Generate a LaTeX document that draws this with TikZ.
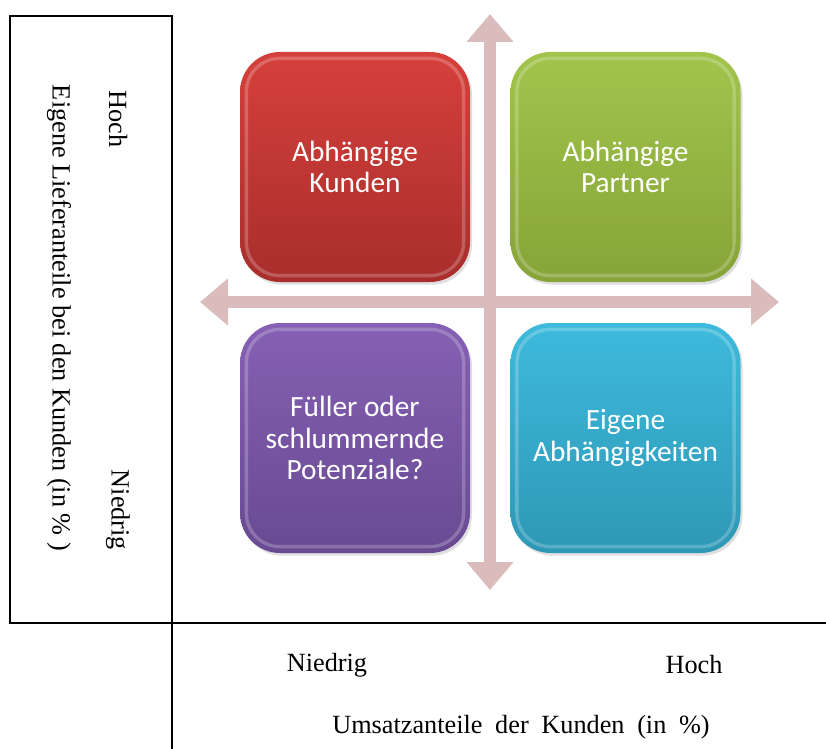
\documentclass[tikz,border=0pt]{standalone}
\usepackage{fontspec}
\setmainfont{Liberation Serif}
\newfontfamily\boxfont{Carlito}
\usetikzlibrary{arrows.meta,shadows}

\definecolor{redtop}{RGB}{214,64,60}
\definecolor{redbot}{RGB}{168,46,44}
\definecolor{greentop}{RGB}{162,196,76}
\definecolor{greenbot}{RGB}{134,164,56}
\definecolor{purpletop}{RGB}{134,96,180}
\definecolor{purplebot}{RGB}{104,74,146}
\definecolor{bluetop}{RGB}{62,186,220}
\definecolor{bluebot}{RGB}{46,152,182}
\definecolor{axispink}{RGB}{218,188,188}

\tikzset{
  quadbox/.style={rounded corners=30pt, minimum width=172.5pt, minimum height=172.5pt,
    align=center, text=white, font=\boxfont\fontsize{22}{23.5}\selectfont,
    drop shadow={shadow xshift=1.5pt, shadow yshift=-2pt, opacity=.25}},
  rim/.style={draw=white, draw opacity=.22, line width=2.5pt, rounded corners=25pt},
  axisarrow/.style={line width=8.5pt, draw=axispink,
    {Triangle[length=21pt,width=34pt]}-{Triangle[length=21pt,width=34pt]}},
  axislabel/.style={font=\fontsize{19.7}{22}\selectfont, inner sep=0pt},
  frame/.style={line width=1.5pt}
}

\begin{document}
\begin{tikzpicture}[x=0.75pt,y=-0.75pt]
  \useasboundingbox (0,0) rectangle (826,749);
  % frame lines
  \draw[frame] (172,749) -- (172,16) -- (10,16) -- (10,623) -- (826,623);
  % axes
  \coordinate (ytop) at (490,14);
  \coordinate (ybot) at (490,590);
  \coordinate (xleft) at (200,302);
  \coordinate (xright) at (779,302);
  \draw[axisarrow] (ybot) -- (ytop);
  \draw[axisarrow] (xleft) -- (xright);
  % quadrants
  \node[quadbox, top color=redtop, bottom color=redbot] (kunden) at (355,167) {Abhängige\\Kunden};
  \node[quadbox, top color=greentop, bottom color=greenbot] (partner) at (625.5,167) {Abhängige\\Partner};
  \node[quadbox, top color=purpletop, bottom color=purplebot] (fueller) at (355,438) {Füller oder\\schlummernde\\Potenziale?};
  \node[quadbox, top color=bluetop, bottom color=bluebot] (eigene) at (625.5,438) {Eigene\\Abhängigkeiten};
  \foreach \q in {kunden,partner,fueller,eigene}
    \draw[rim] ([shift={(5pt,-5pt)}]\q.north west) rectangle ([shift={(-5pt,5pt)}]\q.south east);
  % labels
  \node[axislabel, rotate=-90] (yhoch) at (118,119) {Hoch};
  \node[axislabel, rotate=-90] (yniedrig) at (118,510) {Niedrig};
  \node[axislabel, rotate=-90] (ytitle) at (59,318) {Eigene Lieferanteile bei den Kunden (in \% )};
  \node[axislabel] (xniedrig) at (327,665) {Niedrig};
  \node[axislabel] (xhoch) at (694,665) {Hoch};
  \node[axislabel] (xtitle) at (521,727) {\spaceskip=9.5pt\relax Umsatzanteile der Kunden (in \%)};
\end{tikzpicture}
\end{document}
